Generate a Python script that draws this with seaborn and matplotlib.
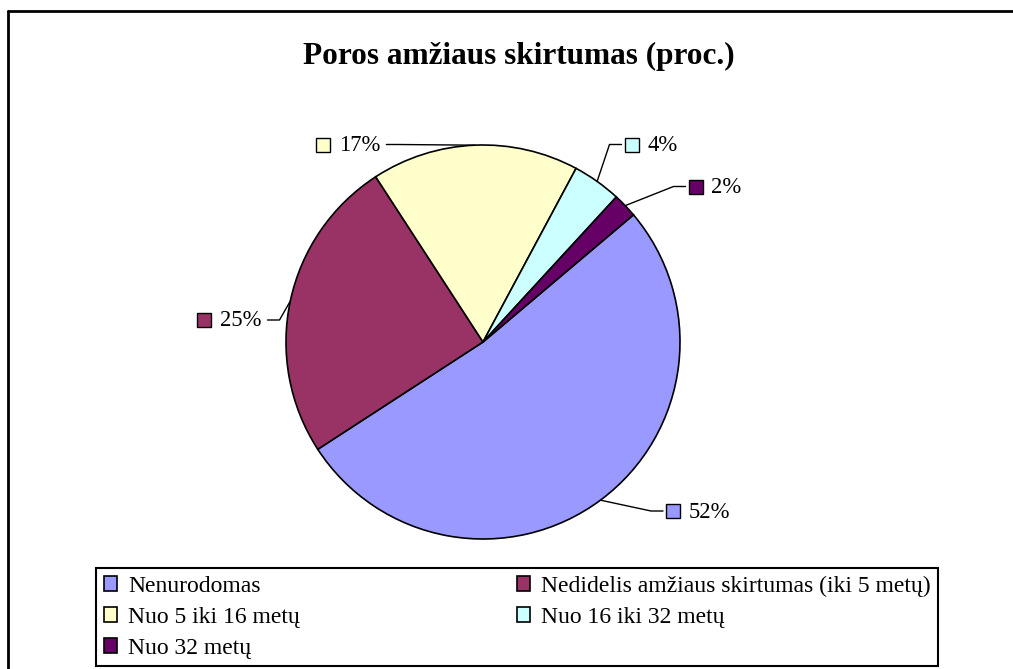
import matplotlib
matplotlib.use('Agg')

import matplotlib.pyplot as plt
import seaborn as sns
import numpy as np
from matplotlib.lines import Line2D

# chart data
categories = ['Nenurodomas',
              'Nedidelis amžiaus skirtumas (iki 5 metų)',
              'Nuo 5 iki 16 metų',
              'Nuo 16 iki 32 metų',
              'Nuo 32 metų']
shares = [52, 25, 17, 4, 2]
pct_labels = ['52%', '25%', '17%', '4%', '2%']
colors = ['#9999FF', '#993366', '#FFFFCC', '#CCFFFF', '#660066']
title = 'Poros amžiaus skirtumas (proc.)'

sns.set_theme(style='white')
plt.rcParams['font.family'] = ['Liberation Serif', 'DejaVu Serif']
plt.rcParams['text.color'] = 'black'

# layout in pixels
W, H = 1013, 669
CX, CY, R = 483, 342, 197
# centre of the small colour key next to each data label
label_keys_px = [(673, 511), (204, 320), (323, 144.5), (631.5, 144.5), (695.5, 186.5)]


def px2d(px, py):
    return (px - CX) / R, (CY - py) / R


fig = plt.figure(figsize=(W / 100, H / 100), dpi=100)
ax = fig.add_axes([0, 0, 1, 1])

wedges, _ = ax.pie(shares, colors=colors, startangle=40.2, counterclock=False,
                   wedgeprops=dict(edgecolor='black', linewidth=1.2))
ax.set_xlim(-CX / R, (W - CX) / R)
ax.set_ylim((CY - H) / R, CY / R)
ax.set_aspect('equal')
ax.axis('off')

renderer = fig.canvas.get_renderer()
px = 1 / R  # one pixel in data units
for w, lab, col, (kx, ky) in zip(wedges, pct_labels, colors, label_keys_px):
    mid = np.deg2rad((w.theta1 + w.theta2) / 2)
    ex, ey = np.cos(mid), np.sin(mid)
    sx, sy = px2d(kx, ky)
    ax.plot(sx, sy, marker='s', ms=10, mfc=col, mec='black', mew=1.0, zorder=5)
    t = ax.text(sx + 16 * px, sy - 1 * px, lab, ha='left', va='center',
                fontsize=16.3, color='black', zorder=5)
    if sx > 0:
        end_x = sx - 10 * px
        elbow_x = end_x - 12 * px
    else:
        bb = t.get_window_extent(renderer).transformed(ax.transData.inverted())
        end_x = bb.x1 + 6 * px
        elbow_x = end_x + 12 * px
    ax.plot([ex, elbow_x, end_x], [ey, sy, sy], color='black', lw=1.0, zorder=4)

fig.text(519 / W, 1 - 56 / H, title, ha='center', va='center', color='black',
         fontsize=22.5, fontweight='bold')

# legend is row-wise in the reference, matplotlib fills columns first
order = [0, 2, 4, 1, 3]
leg = fig.legend([wedges[i] for i in order], [categories[i] for i in order],
                 ncol=2, mode='expand', loc='upper left',
                 bbox_to_anchor=(96 / W, 1 - 666 / H, 842 / W, 98 / H),
                 fontsize=17, frameon=True, fancybox=False, framealpha=1,
                 edgecolor='black', handlelength=0.58, handleheight=0.58,
                 handletextpad=0.45, labelspacing=0.42, borderpad=0.32,
                 borderaxespad=0)
leg.get_frame().set_linewidth(1.5)
for txt in leg.get_texts():
    txt.set_color('black')

# outer chart border (cropped on right and bottom)
fig.add_artist(Line2D([8 / W, 1], [1 - 11 / H, 1 - 11 / H], color='black', lw=2,
                      transform=fig.transFigure))
fig.add_artist(Line2D([8 / W, 8 / W], [0, 1 - 11 / H], color='black', lw=2,
                      transform=fig.transFigure))

plt.savefig('out.png', dpi=100)
plt.close()
